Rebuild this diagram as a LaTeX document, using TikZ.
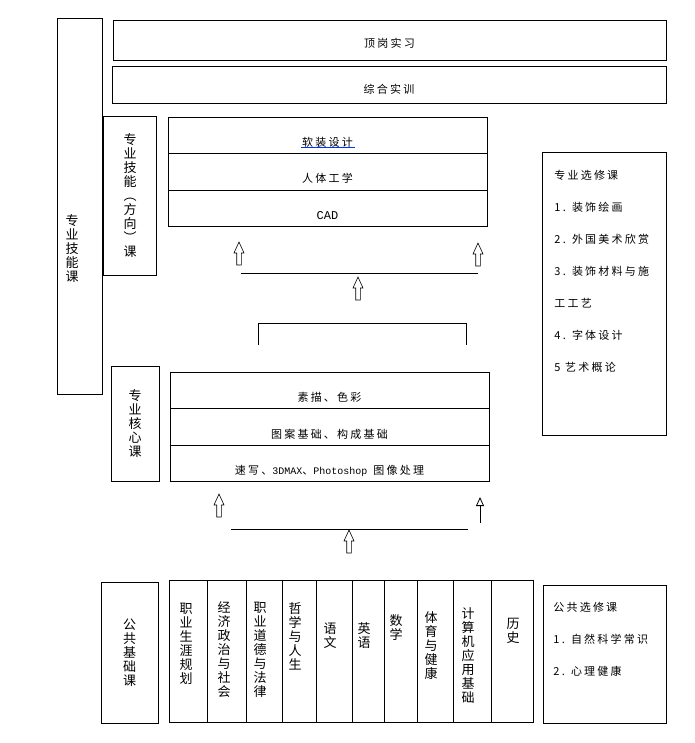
\documentclass[tikz,border=0pt]{standalone}
\usepackage{fontspec}
\usetikzlibrary{arrows.meta,positioning}
\newfontfamily\cjk[LetterSpace=20]{Noto Sans CJK SC}
\newfontfamily\cjkv{Noto Sans CJK SC}
\newfontfamily\mono{Liberation Mono}
\newcommand{\htext}{\cjk\fontsize{11}{13}\selectfont}
\newcommand{\vtext}{\cjkv\fontsize{13}{14}\selectfont}
\newcommand{\listtext}{\cjk\fontsize{11}{32}\selectfont}
\newcommand{\latin}{\mono\fontsize{10}{12}\selectfont}

\tikzset{blockup/.pic={
  \draw[line width=0.6pt,fill=white] (-2.3,23) -- (-2.3,11) -- (-5,11) -- (0,0)
    -- (5,11) -- (2.3,11) -- (2.3,23) -- cycle;}}

\begin{document}
\begin{tikzpicture}[x=1pt,y=-1pt,line width=0.9pt,
    box/.style={draw,inner sep=0pt,outer sep=0pt},
    bar/.style={box,font=\htext,text height=17pt,text depth=2pt},
    row/.style={box,minimum width=319pt,minimum height=36.5pt,font=\htext,
      text height=24pt,text depth=2pt},
    vbox/.style={box,font=\vtext,align=center},
    course/.style={box,minimum height=142pt},
    vlabel/.style={font=\vtext,align=center,inner sep=0pt},
    list/.style={align=left,anchor=north west,inner sep=0pt,font=\listtext},
    link/.style={line width=0.8pt}]

  \useasboundingbox (0,0) rectangle (694,743);

  % practice bars
  \node[bar,minimum width=553pt,minimum height=40pt] (dinggang) at (389.5,40.5) {顶岗实习};
  \node[bar,minimum width=554pt,minimum height=37pt,text height=20pt] (zonghe) at (389,84.5) {综合实训};

  % skill courses
  \node[box,minimum width=45pt,minimum height=376pt] (jineng) at (79.5,206) {};
  \node[vlabel] (jinenglabel) at (72,249) {专\\业\\技\\能\\课};
  \node[vbox,minimum width=53pt,minimum height=159pt] (fangxiang) at (130,195.5)
    {专\\业\\技\\能\\︵\\方\\向\\︶\\课};

  \node[row] (ruanzhuang) at (327.5,135.5) {软装设计};
  \node[row,below=0pt of ruanzhuang] (renti) {人体工学};
  \node[row,below=0pt of renti,font=\mono\fontsize{12}{14}\selectfont] (cad) {CAD};
  \draw[blue!80!cyan,line width=0.4pt,double distance=0.6pt] (301,148) -- (355,148);

  \pic at (239,242) {blockup};
  \pic at (478,243) {blockup};
  \coordinate (l_1) at (241,273);
  \coordinate (l_2) at (478,273);
  \draw[link] (l_1) -- (l_2);
  \pic at (358,277) {blockup};

  \coordinate (b_1) at (258,345);
  \coordinate (b_2) at (258,323);
  \coordinate (b_3) at (466,323);
  \coordinate (b_4) at (466,345);
  \draw[link] (b_1) -- (b_2) -- (b_3) -- (b_4);

  % core courses
  \node[vbox,minimum width=48pt,minimum height=115pt] (hexin) at (135,423.5) {专\\业\\核\\心\\课};
  \node[row] (sumiao) at (329.5,390.5) {素描、色彩};
  \node[row,below=0pt of sumiao] (tuan) {图案基础、构成基础};
  \node[row,below=0pt of tuan] (suxie)
    {速写、{\latin 3DMAX}、{\latin Photoshop }图像处理};

  \pic at (219,494) {blockup};
  \coordinate (t_a) at (480,523);
  \coordinate (t_b) at (480,497);
  \draw[link,-{Triangle[open,width=8pt,length=9pt]}] (t_a) -- (t_b);
  \coordinate (m_1) at (231,529);
  \coordinate (m_2) at (468,529);
  \draw[link] (m_1) -- (m_2);
  \pic at (349,530) {blockup};

  % electives
  \node[box,minimum width=124pt,minimum height=283pt] (zhuanxuan) at (604,293.5) {};
  \node[list] (zhuanxuanlist) at (554,170)
    {专业选修课\\1. 装饰绘画\\2. 外国美术欣赏\\3. 装饰材料与施\\工工艺\\4. 字体设计\\5 艺术概论};

  \node[box,minimum width=123pt,minimum height=138pt] (gongxuan) at (604.5,654) {};
  \node[list] (gongxuanlist) at (553,602)
    {公共选修课\\1. 自然科学常识\\2. 心理健康};

  % public courses
  \node[vbox,minimum width=57pt,minimum height=141pt] (gonggong) at (129.5,652.5)
    {公\\共\\基\\础\\课};

  \node[course,minimum width=38pt] (c_1) at (188,651) {};
  \node[course,minimum width=39pt] (c_2) at (226.5,651) {};
  \node[course,minimum width=36pt] (c_3) at (264,651) {};
  \node[course,minimum width=34pt] (c_4) at (299,651) {};
  \node[course,minimum width=36pt] (c_5) at (334,651) {};
  \node[course,minimum width=32pt] (c_6) at (368,651) {};
  \node[course,minimum width=33pt] (c_7) at (400.5,651) {};
  \node[course,minimum width=36pt] (c_8) at (435,651) {};
  \node[course,minimum width=38pt] (c_9) at (472,651) {};
  \node[course,minimum width=42pt] (c_10) at (512,651) {};

  \node[vlabel] (shengya) at (186,643.5) {职\\业\\生\\涯\\规\\划};
  \node[vlabel] (jingji) at (224,650) {经\\济\\政\\治\\与\\社\\会};
  \node[vlabel] (daode) at (260,650) {职\\业\\道\\德\\与\\法\\律};
  \node[vlabel] (zhexue) at (295,636) {哲\\学\\与\\人\\生};
  \node[vlabel] (yuwen) at (330,636) {语\\文};
  \node[vlabel] (yingyu) at (364,636) {英\\语};
  \node[vlabel] (shuxue) at (396,628) {数\\学};
  \node[vlabel] (tiyu) at (431,646) {体\\育\\与\\健\\康};
  \node[vlabel] (jisuanji) at (468,656) {计\\算\\机\\应\\用\\基\\础};
  \node[vlabel] (lishi) at (513,631) {历\\史};

\end{tikzpicture}
\end{document}
